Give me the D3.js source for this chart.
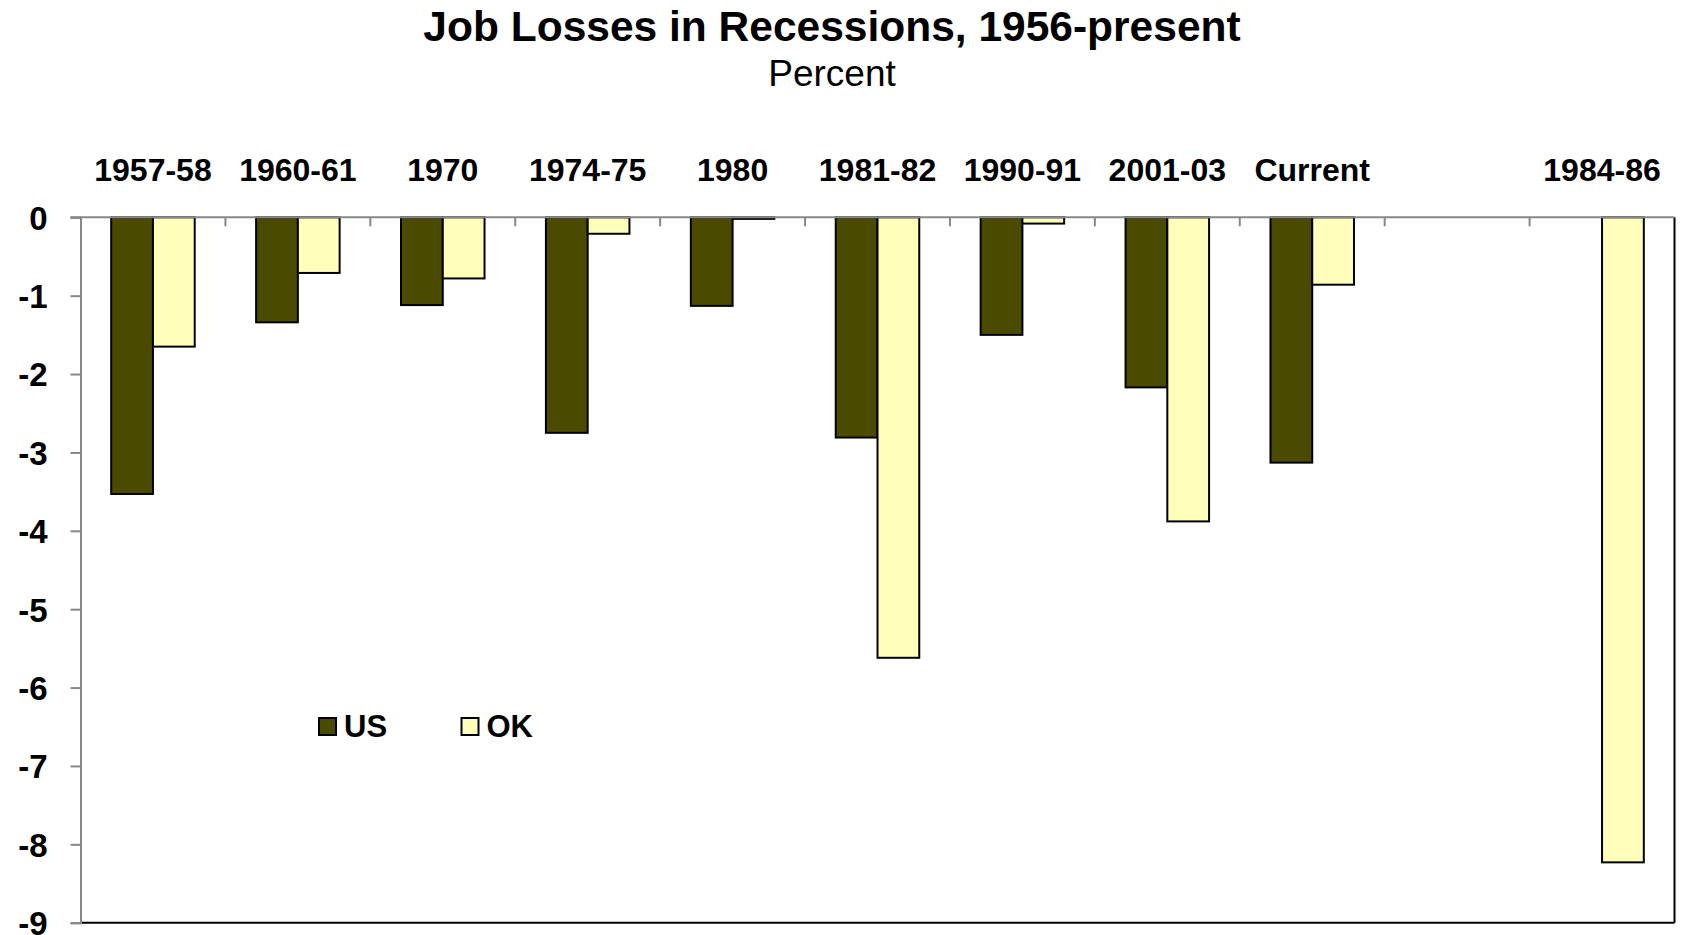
<!DOCTYPE html>
<html>
<head>
<meta charset="utf-8">
<script src="https://cdn.jsdelivr.net/npm/d3@7"></script>
<style>
  html, body { margin: 0; padding: 0; background: #fff; }
  svg { display: block; font-family: "Liberation Sans", Arial, sans-serif; }
</style>
</head>
<body>
<svg id="chart" width="1681" height="935"></svg>
<script>
// ---- data ----
const categories = ["1957-58", "1960-61", "1970", "1974-75", "1980", "1981-82", "1990-91", "2001-03", "Current", "", "1984-86"];
const seriesNames = ["US", "OK"];
const usValues = [-3.53, -1.34, -1.12, -2.75, -1.13, -2.81, -1.50, -2.17, -3.13, null, null];
const okValues = [-1.65, -0.71, -0.78, -0.21, -0.02, -5.62, -0.08, -3.88, -0.86, null, -8.23];
const yTicks = [0, -1, -2, -3, -4, -5, -6, -7, -8, -9];
const titleText = "Job Losses in Recessions, 1956-present";
const subtitleText = "Percent";

(function () {
const colors = { US: "#4b4b00", OK: "#ffffbb" };

const svg = d3.select("#chart");
const pLeft = 80.5, pRight = 1674.5, pTop = 217.3, pBottom = 922.7;

const x = d3.scaleBand().domain(d3.range(categories.length)).range([pLeft, pRight]).padding(0);
const xs = d3.scaleBand().domain(seriesNames).range([0, x.bandwidth()]).paddingInner(0).paddingOuter(0.735);
const y = d3.scaleLinear().domain([0, -9]).range([pTop, pBottom]);

const seriesData = { US: usValues, OK: okValues };

// title
svg.append("text").attr("x", 832).attr("y", 41).attr("text-anchor", "middle")
  .attr("font-size", 42.5).attr("font-weight", "bold").text(titleText);
svg.append("text").attr("x", 832).attr("y", 86).attr("text-anchor", "middle")
  .attr("font-size", 37).text(subtitleText);

// bars
seriesNames.forEach(s => {
  svg.append("g").selectAll("rect")
    .data(seriesData[s].map((v, i) => ({ v, i })).filter(d => d.v !== null))
    .join("rect")
    .attr("x", d => x(d.i) + xs(s))
    .attr("width", xs.bandwidth())
    .attr("y", y(0))
    .attr("height", d => y(d.v) - y(0))
    .attr("fill", colors[s])
    .attr("stroke", "#000")
    .attr("stroke-width", 2);
});

// plot border right & bottom (black)
svg.append("line").attr("x1", pLeft).attr("x2", pRight).attr("y1", pBottom).attr("y2", pBottom)
  .attr("stroke", "#000").attr("stroke-width", 2);
svg.append("line").attr("x1", pRight).attr("x2", pRight).attr("y1", pTop).attr("y2", pBottom)
  .attr("stroke", "#000").attr("stroke-width", 2);

// y axis (left, gray)
const yAxis = d3.axisLeft(y).tickValues(yTicks).tickSize(10).tickPadding(22).tickFormat(d => String(d));
const gy = svg.append("g").attr("transform", `translate(${pLeft},0)`).call(yAxis);
gy.select(".domain").attr("stroke", "#888").attr("stroke-width", 2);
gy.selectAll(".tick line").attr("stroke", "#888").attr("stroke-width", 2);
gy.selectAll(".tick text").attr("font-size", 33).attr("font-weight", "bold")
  .attr("fill", "#000").attr("font-family", "Liberation Sans, Arial, sans-serif")
  .attr("dy", "0.36em").attr("x", -33);

// x axis at zero line (top, gray) with boundary ticks going down
const boundary = d3.scaleLinear().domain([0, categories.length]).range([pLeft, pRight]);
svg.append("line").attr("x1", pLeft - 10).attr("x2", pRight).attr("y1", y(0)).attr("y2", y(0))
  .attr("stroke", "#888").attr("stroke-width", 2);
svg.append("g").selectAll("line").data(d3.range(1, categories.length))
  .join("line")
  .attr("x1", d => boundary(d)).attr("x2", d => boundary(d))
  .attr("y1", y(0)).attr("y2", y(0) + 9)
  .attr("stroke", "#888").attr("stroke-width", 2);

// category labels above
svg.append("g").selectAll("text").data(categories.map((c, i) => ({ c, i })))
  .join("text")
  .attr("x", d => x(d.i) + x.bandwidth() / 2)
  .attr("y", 181)
  .attr("text-anchor", "middle")
  .attr("font-size", 32).attr("font-weight", "bold")
  .text(d => d.c);

// legend
const legendX = [319, 461.5];
seriesNames.forEach((s, i) => {
  const g = svg.append("g").attr("transform", `translate(${legendX[i]},718)`);
  g.append("rect").attr("width", 17).attr("height", 17).attr("fill", colors[s])
    .attr("stroke", "#000").attr("stroke-width", 2);
  g.append("text").attr("x", 25).attr("y", 19).attr("font-size", 31).attr("font-weight", "bold").text(s);
});
})();
</script>
</body>
</html>
